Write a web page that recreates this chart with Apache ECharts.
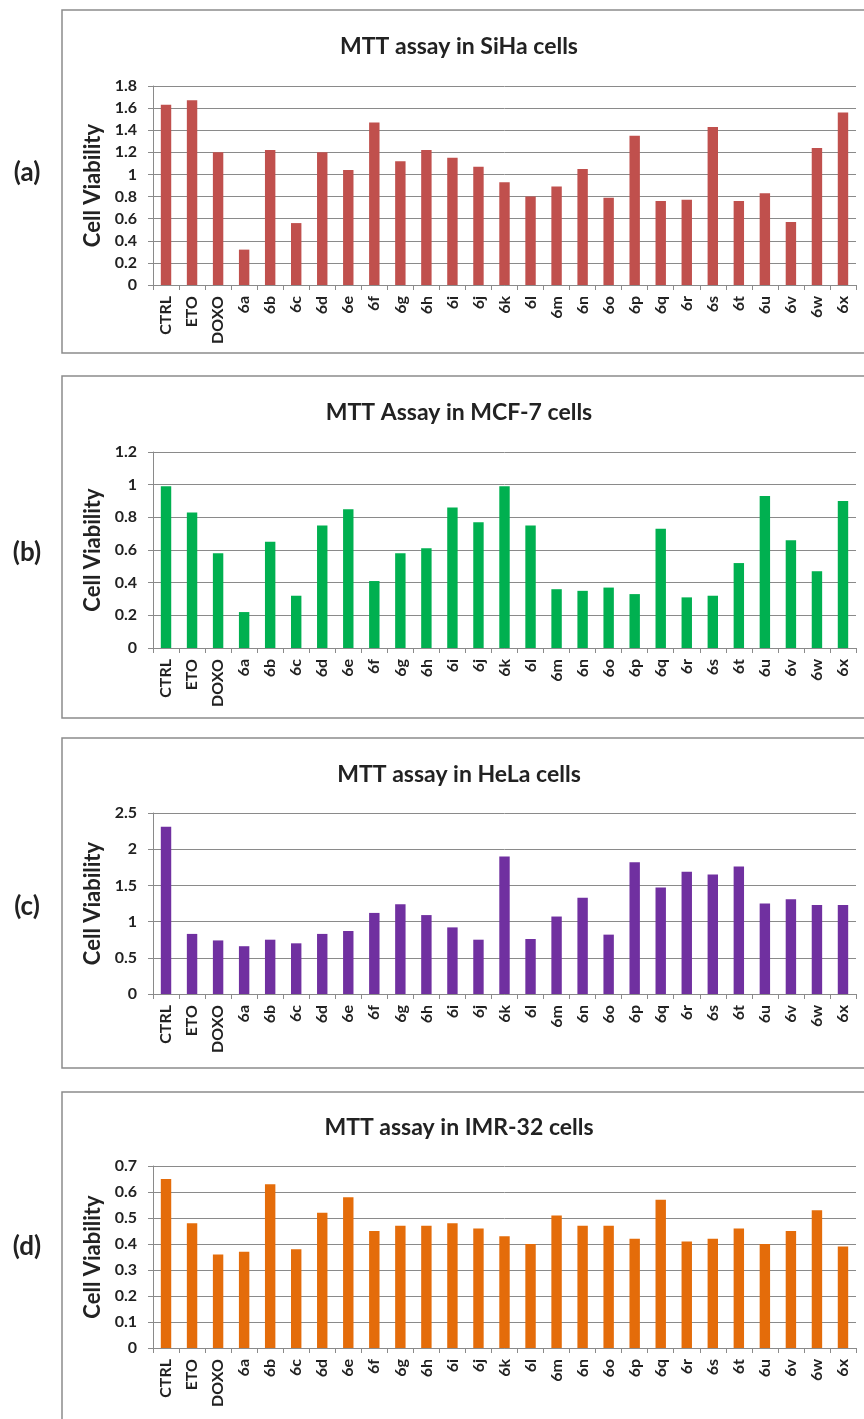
<!DOCTYPE html>
<html>
<head>
<meta charset="utf-8">
<script src="https://cdn.jsdelivr.net/npm/echarts@6/dist/echarts.min.js"></script>
<style>
  html, body { margin: 0; padding: 0; background: #fff; }
  #chart { width: 864px; height: 1419px; }
</style>
</head>
<body>
<div id="chart"></div>
<script>
const categories = ['CTRL', 'ETO', 'DOXO', '6a', '6b', '6c', '6d', '6e', '6f', '6g', '6h', '6i', '6j',
  '6k', '6l', '6m', '6n', '6o', '6p', '6q', '6r', '6s', '6t', '6u', '6v', '6w', '6x']

const sihaValues = [1.63, 1.67, 1.2, 0.32, 1.22, 0.56, 1.2, 1.04, 1.47, 1.12, 1.22, 1.15, 1.07,
  0.93, 0.8, 0.89, 1.05, 0.79, 1.35, 0.76, 0.77, 1.43, 0.76, 0.83, 0.57, 1.24, 1.56]
const mcf7Values = [0.99, 0.83, 0.58, 0.22, 0.65, 0.32, 0.75, 0.85, 0.41, 0.58, 0.61, 0.86, 0.77,
  0.99, 0.75, 0.36, 0.35, 0.37, 0.33, 0.73, 0.31, 0.32, 0.52, 0.93, 0.66, 0.47, 0.9]
const helaValues = [2.31, 0.83, 0.74, 0.66, 0.75, 0.7, 0.83, 0.87, 1.12, 1.24, 1.09, 0.92, 0.75,
  1.9, 0.76, 1.07, 1.33, 0.82, 1.82, 1.47, 1.69, 1.65, 1.76, 1.25, 1.31, 1.23, 1.23]
const imr32Values = [0.65, 0.48, 0.36, 0.37, 0.63, 0.38, 0.52, 0.58, 0.45, 0.47, 0.47, 0.48, 0.46,
  0.43, 0.4, 0.51, 0.47, 0.47, 0.42, 0.57, 0.41, 0.42, 0.46, 0.4, 0.45, 0.53, 0.39]

const panelTitles = ['MTT assay in SiHa cells', 'MTT Assay in MCF-7 cells', 'MTT assay in HeLa cells', 'MTT assay in IMR-32 cells']
const panelTags = ['(a)', '(b)', '(c)', '(d)']
const yMax = [1.8, 1.2, 2.5, 0.7]
const yStep = [0.2, 0.2, 0.5, 0.1]

const FONT = 'Lato, "Open Sans", sans-serif'
const colors = ['#c0504d', '#00b050', '#7030a0', '#e46c0a']
const allValues = [sihaValues, mcf7Values, helaValues, imr32Values]

// layout of each panel (px)
const panels = [
  { frameTop: 10, frameH: 343, gridTop: 86, gridH: 199, titleY: 47, tagY: 173 },
  { frameTop: 376, frameH: 342, gridTop: 452, gridH: 196, titleY: 413, tagY: 553 },
  { frameTop: 738, frameH: 330, gridTop: 813, gridH: 181, titleY: 775, tagY: 907 },
  { frameTop: 1092, frameH: 400, gridTop: 1166, gridH: 182, titleY: 1128, tagY: 1247 }
]

const gridLine = '#8a8a8a'
const textColor = '#222'

const chart = echarts.init(document.getElementById('chart'))

const grid = [], xAxis = [], yAxis = [], series = [], title = [], graphic = []

panels.forEach((p, i) => {
  grid.push({ left: 153, width: 703, top: p.gridTop, height: p.gridH })
  xAxis.push({
    type: 'category',
    gridIndex: i,
    data: categories,
    axisLine: { lineStyle: { color: gridLine, width: 1 } },
    axisTick: { show: true, length: 5, lineStyle: { color: gridLine } },
    axisLabel: {
      rotate: 90, interval: 0, margin: 11,
      color: textColor, fontFamily: FONT, fontWeight: 'bold', fontSize: 16
    }
  })
  yAxis.push({
    type: 'value',
    gridIndex: i,
    min: 0, max: yMax[i], interval: yStep[i],
    name: 'Cell Viability',
    nameLocation: 'middle',
    nameGap: 48,
    nameTextStyle: { color: textColor, fontFamily: FONT, fontWeight: 'bold', fontSize: 22 },
    axisLine: { show: true, lineStyle: { color: gridLine, width: 1 } },
    axisTick: { show: true, length: 5, lineStyle: { color: gridLine } },
    axisLabel: { margin: 16, color: textColor, fontFamily: FONT, fontWeight: 'bold', fontSize: 16 },
    splitLine: { lineStyle: { color: gridLine, width: 1 } }
  })
  series.push({
    type: 'bar',
    xAxisIndex: i,
    yAxisIndex: i,
    data: allValues[i],
    barCategoryGap: '60%',
    itemStyle: { color: colors[i] }
  })
  title.push({
    text: panelTitles[i],
    left: 459,
    top: p.titleY,
    padding: 0,
    textAlign: 'center',
    textVerticalAlign: 'middle',
    textStyle: { color: textColor, fontFamily: FONT, fontWeight: 'bold', fontSize: 23 }
  })
  graphic.push({
    type: 'rect',
    shape: { x: 62, y: p.frameTop, width: 840, height: p.frameH },
    style: { fill: null, stroke: '#8c8c8c', lineWidth: 1.5 },
    z: -1
  })
  graphic.push({
    type: 'text',
    x: 27, y: p.tagY,
    style: {
      text: panelTags[i], textAlign: 'center', textVerticalAlign: 'middle',
      fill: textColor, font: 'bold 26px ' + FONT
    }
  })
})

chart.setOption({
  animation: false,
  title,
  grid,
  xAxis,
  yAxis,
  series,
  graphic
})
</script>
</body>
</html>
